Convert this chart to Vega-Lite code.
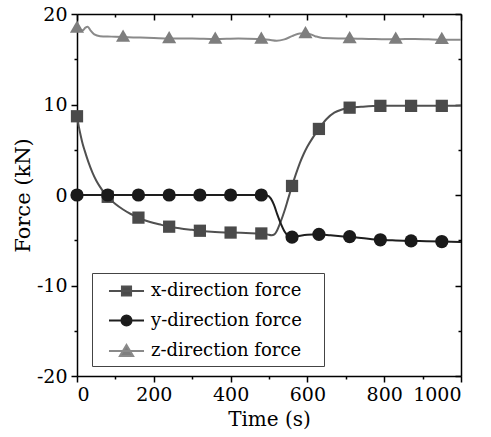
{
  "$schema": "https://vega.github.io/schema/vega-lite/v6.json",
  "width": 384,
  "height": 362,
  "autosize": "none",
  "padding": {"left": 77, "top": 14, "right": 30, "bottom": 61},
  "background": "white",
  "config": {
    "font": "DejaVu Serif",
    "view": {"stroke": null},
    "axis": {"grid": false, "domainColor": "black", "domainWidth": 1.5, "tickColor": "black", "tickWidth": 1.5, "labelColor": "black", "labelFont": "DejaVu Serif", "labelFontSize": 19, "titleFont": "DejaVu Serif", "titleFontSize": 20, "titleFontWeight": "normal", "titleColor": "black"},
    "legend": {"labelFont": "DejaVu Serif"}
  },
  "datasets": {
    "lines": [
      {"t": 0, "v": 8.7, "s": "x-direction force"},
      {"t": 5, "v": 7.5, "s": "x-direction force"},
      {"t": 10, "v": 6.5, "s": "x-direction force"},
      {"t": 15, "v": 5.6, "s": "x-direction force"},
      {"t": 20, "v": 4.9, "s": "x-direction force"},
      {"t": 30, "v": 3.6, "s": "x-direction force"},
      {"t": 40, "v": 2.5, "s": "x-direction force"},
      {"t": 50, "v": 1.6, "s": "x-direction force"},
      {"t": 60, "v": 0.9, "s": "x-direction force"},
      {"t": 70, "v": 0.3, "s": "x-direction force"},
      {"t": 80, "v": -0.2, "s": "x-direction force"},
      {"t": 100, "v": -1.0, "s": "x-direction force"},
      {"t": 120, "v": -1.6, "s": "x-direction force"},
      {"t": 140, "v": -2.1, "s": "x-direction force"},
      {"t": 160, "v": -2.5, "s": "x-direction force"},
      {"t": 180, "v": -2.85, "s": "x-direction force"},
      {"t": 200, "v": -3.1, "s": "x-direction force"},
      {"t": 220, "v": -3.3, "s": "x-direction force"},
      {"t": 240, "v": -3.5, "s": "x-direction force"},
      {"t": 270, "v": -3.7, "s": "x-direction force"},
      {"t": 300, "v": -3.85, "s": "x-direction force"},
      {"t": 320, "v": -3.95, "s": "x-direction force"},
      {"t": 350, "v": -4.05, "s": "x-direction force"},
      {"t": 400, "v": -4.15, "s": "x-direction force"},
      {"t": 440, "v": -4.2, "s": "x-direction force"},
      {"t": 480, "v": -4.25, "s": "x-direction force"},
      {"t": 495, "v": -4.35, "s": "x-direction force"},
      {"t": 507, "v": -4.45, "s": "x-direction force"},
      {"t": 514, "v": -4.35, "s": "x-direction force"},
      {"t": 520, "v": -4.0, "s": "x-direction force"},
      {"t": 530, "v": -3.0, "s": "x-direction force"},
      {"t": 540, "v": -1.8, "s": "x-direction force"},
      {"t": 550, "v": -0.4, "s": "x-direction force"},
      {"t": 560, "v": 1.0, "s": "x-direction force"},
      {"t": 570, "v": 2.3, "s": "x-direction force"},
      {"t": 580, "v": 3.5, "s": "x-direction force"},
      {"t": 590, "v": 4.5, "s": "x-direction force"},
      {"t": 600, "v": 5.35, "s": "x-direction force"},
      {"t": 615, "v": 6.4, "s": "x-direction force"},
      {"t": 630, "v": 7.3, "s": "x-direction force"},
      {"t": 650, "v": 8.4, "s": "x-direction force"},
      {"t": 670, "v": 9.1, "s": "x-direction force"},
      {"t": 690, "v": 9.45, "s": "x-direction force"},
      {"t": 710, "v": 9.65, "s": "x-direction force"},
      {"t": 740, "v": 9.75, "s": "x-direction force"},
      {"t": 790, "v": 9.85, "s": "x-direction force"},
      {"t": 870, "v": 9.85, "s": "x-direction force"},
      {"t": 950, "v": 9.85, "s": "x-direction force"},
      {"t": 1000, "v": 9.9, "s": "x-direction force"},
      {"t": 0, "v": 0, "s": "y-direction force"},
      {"t": 100, "v": 0, "s": "y-direction force"},
      {"t": 200, "v": 0, "s": "y-direction force"},
      {"t": 300, "v": 0, "s": "y-direction force"},
      {"t": 400, "v": 0, "s": "y-direction force"},
      {"t": 480, "v": 0, "s": "y-direction force"},
      {"t": 495, "v": -0.05, "s": "y-direction force"},
      {"t": 505, "v": -0.4, "s": "y-direction force"},
      {"t": 513, "v": -1.1, "s": "y-direction force"},
      {"t": 522, "v": -2.2, "s": "y-direction force"},
      {"t": 531, "v": -3.2, "s": "y-direction force"},
      {"t": 540, "v": -4.0, "s": "y-direction force"},
      {"t": 550, "v": -4.5, "s": "y-direction force"},
      {"t": 560, "v": -4.65, "s": "y-direction force"},
      {"t": 575, "v": -4.55, "s": "y-direction force"},
      {"t": 600, "v": -4.4, "s": "y-direction force"},
      {"t": 630, "v": -4.35, "s": "y-direction force"},
      {"t": 660, "v": -4.45, "s": "y-direction force"},
      {"t": 700, "v": -4.6, "s": "y-direction force"},
      {"t": 740, "v": -4.75, "s": "y-direction force"},
      {"t": 790, "v": -4.95, "s": "y-direction force"},
      {"t": 830, "v": -5.02, "s": "y-direction force"},
      {"t": 870, "v": -5.07, "s": "y-direction force"},
      {"t": 910, "v": -5.1, "s": "y-direction force"},
      {"t": 950, "v": -5.14, "s": "y-direction force"},
      {"t": 1000, "v": -5.2, "s": "y-direction force"},
      {"t": 0, "v": 18.5, "s": "z-direction force"},
      {"t": 8, "v": 18.3, "s": "z-direction force"},
      {"t": 15, "v": 18.2, "s": "z-direction force"},
      {"t": 22, "v": 18.5, "s": "z-direction force"},
      {"t": 28, "v": 18.6, "s": "z-direction force"},
      {"t": 35, "v": 18.2, "s": "z-direction force"},
      {"t": 45, "v": 17.75, "s": "z-direction force"},
      {"t": 60, "v": 17.55, "s": "z-direction force"},
      {"t": 90, "v": 17.5, "s": "z-direction force"},
      {"t": 120, "v": 17.45, "s": "z-direction force"},
      {"t": 160, "v": 17.4, "s": "z-direction force"},
      {"t": 200, "v": 17.35, "s": "z-direction force"},
      {"t": 240, "v": 17.3, "s": "z-direction force"},
      {"t": 300, "v": 17.3, "s": "z-direction force"},
      {"t": 360, "v": 17.25, "s": "z-direction force"},
      {"t": 420, "v": 17.3, "s": "z-direction force"},
      {"t": 470, "v": 17.25, "s": "z-direction force"},
      {"t": 500, "v": 17.15, "s": "z-direction force"},
      {"t": 520, "v": 17.05, "s": "z-direction force"},
      {"t": 540, "v": 17.2, "s": "z-direction force"},
      {"t": 560, "v": 17.55, "s": "z-direction force"},
      {"t": 580, "v": 17.85, "s": "z-direction force"},
      {"t": 600, "v": 17.85, "s": "z-direction force"},
      {"t": 620, "v": 17.55, "s": "z-direction force"},
      {"t": 640, "v": 17.35, "s": "z-direction force"},
      {"t": 680, "v": 17.3, "s": "z-direction force"},
      {"t": 710, "v": 17.3, "s": "z-direction force"},
      {"t": 760, "v": 17.25, "s": "z-direction force"},
      {"t": 830, "v": 17.2, "s": "z-direction force"},
      {"t": 880, "v": 17.25, "s": "z-direction force"},
      {"t": 950, "v": 17.15, "s": "z-direction force"},
      {"t": 1000, "v": 17.15, "s": "z-direction force"}
    ],
    "markers": [
      {"t": 0, "v": 8.7, "s": "x-direction force"},
      {"t": 80, "v": -0.2, "s": "x-direction force"},
      {"t": 160, "v": -2.5, "s": "x-direction force"},
      {"t": 240, "v": -3.5, "s": "x-direction force"},
      {"t": 320, "v": -3.95, "s": "x-direction force"},
      {"t": 400, "v": -4.15, "s": "x-direction force"},
      {"t": 480, "v": -4.25, "s": "x-direction force"},
      {"t": 560, "v": 1.0, "s": "x-direction force"},
      {"t": 630, "v": 7.3, "s": "x-direction force"},
      {"t": 710, "v": 9.65, "s": "x-direction force"},
      {"t": 790, "v": 9.85, "s": "x-direction force"},
      {"t": 870, "v": 9.85, "s": "x-direction force"},
      {"t": 950, "v": 9.85, "s": "x-direction force"},
      {"t": 0, "v": 0, "s": "y-direction force"},
      {"t": 80, "v": 0, "s": "y-direction force"},
      {"t": 160, "v": 0, "s": "y-direction force"},
      {"t": 240, "v": 0, "s": "y-direction force"},
      {"t": 320, "v": 0, "s": "y-direction force"},
      {"t": 400, "v": 0, "s": "y-direction force"},
      {"t": 480, "v": 0, "s": "y-direction force"},
      {"t": 560, "v": -4.65, "s": "y-direction force"},
      {"t": 630, "v": -4.35, "s": "y-direction force"},
      {"t": 710, "v": -4.6, "s": "y-direction force"},
      {"t": 790, "v": -4.95, "s": "y-direction force"},
      {"t": 870, "v": -5.07, "s": "y-direction force"},
      {"t": 950, "v": -5.14, "s": "y-direction force"},
      {"t": 0, "v": 18.6, "s": "z-direction force"},
      {"t": 120, "v": 17.6, "s": "z-direction force"},
      {"t": 240, "v": 17.45, "s": "z-direction force"},
      {"t": 360, "v": 17.4, "s": "z-direction force"},
      {"t": 480, "v": 17.4, "s": "z-direction force"},
      {"t": 595, "v": 18.0, "s": "z-direction force"},
      {"t": 710, "v": 17.45, "s": "z-direction force"},
      {"t": 830, "v": 17.4, "s": "z-direction force"},
      {"t": 950, "v": 17.35, "s": "z-direction force"}
    ]
  },
  "layer": [
    {
      "data": {"name": "lines"},
      "mark": {"type": "line", "strokeWidth": 2, "interpolate": "monotone"},
      "encoding": {
        "x": {"field": "t", "type": "quantitative", "scale": {"domain": [0, 1000], "nice": false},
          "axis": {"orient": "bottom", "values": [0, 100, 200, 300, 400, 500, 600, 700, 800, 900, 1000],
            "labelExpr": "datum.value % 200 === 0 ? '' + datum.value : ''",
            "tickSize": {"condition": {"test": "datum.value % 200 === 0", "value": 6}, "value": 3},
            "labelPadding": 3, "title": "Time (s)", "titlePadding": 5, "labelOverlap": false}},
        "y": {"field": "v", "type": "quantitative", "scale": {"domain": [-20, 20], "nice": false},
          "axis": {"orient": "left", "values": [-20, -15, -10, -5, 0, 5, 10, 15, 20],
            "labelExpr": "datum.value % 10 === 0 ? '' + datum.value : ''",
            "tickSize": {"condition": {"test": "datum.value % 10 === 0", "value": 6}, "value": 3},
            "labelPadding": 4, "title": "Force (kN)", "titleFontSize": 21, "titlePadding": 3, "labelOverlap": false}},
        "color": {"field": "s", "type": "nominal", "legend": null,
          "scale": {"domain": ["x-direction force", "y-direction force", "z-direction force"], "range": ["#505050", "#1e1e1e", "#8a8a8a"]}}
      }
    },
    {
      "data": {"name": "markers"},
      "mark": {"type": "point", "filled": true, "opacity": 1},
      "encoding": {
        "x": {"field": "t", "type": "quantitative",
          "axis": {"orient": "top", "values": [0, 100, 200, 300, 400, 500, 600, 700, 800, 900, 1000], "labels": false, "title": null,
            "tickSize": {"condition": {"test": "datum.value % 200 === 0", "value": -6}, "value": -3}}},
        "y": {"field": "v", "type": "quantitative",
          "axis": {"orient": "right", "values": [-20, -15, -10, -5, 0, 5, 10, 15, 20], "labels": false, "title": null,
            "tickSize": {"condition": {"test": "datum.value % 10 === 0", "value": -6}, "value": -3}}},
        "color": {"field": "s", "type": "nominal", "legend": null,
          "scale": {"domain": ["x-direction force", "y-direction force", "z-direction force"], "range": ["#4a4a4a", "#1a1a1a", "#7e7e7e"]}},
        "shape": {"field": "s", "type": "nominal", "legend": null,
          "scale": {"domain": ["x-direction force", "y-direction force", "z-direction force"], "range": ["square", "circle", "triangle-up"]}},
        "size": {"field": "s", "type": "nominal", "legend": null,
          "scale": {"domain": ["x-direction force", "y-direction force", "z-direction force"], "range": [150, 200, 256]}}
      }
    },
    {
      "data": {"name": "markers"},
      "transform": [{"filter": "datum.t < 0"}],
      "mark": {"type": "point", "filled": false, "opacity": 1, "size": 576, "strokeWidth": 2},
      "encoding": {
        "x": {"field": "t", "type": "quantitative", "axis": null},
        "y": {"field": "v", "type": "quantitative", "axis": null},
        "fill": {"field": "s", "type": "nominal",
          "scale": {"domain": ["x-direction force", "y-direction force", "z-direction force"], "range": ["#4a4a4a", "#1a1a1a", "#7e7e7e"]},
          "legend": {"orient": "none", "legendX": 15, "legendY": 259, "title": null, "symbolFillColor": "white", "symbolStrokeWidth": 2, "symbolSize": 576, "symbolOffset": 16.5, "labelOffset": 11.5, "labelFont": "DejaVu Serif", "labelFontSize": 18, "labelColor": "black", "rowPadding": 7.5, "padding": 5, "strokeColor": "#444", "fillColor": "white", "labelLimit": 400}},
        "stroke": {"field": "s", "type": "nominal",
          "scale": {"domain": ["x-direction force", "y-direction force", "z-direction force"], "range": ["#505050", "#1e1e1e", "#8a8a8a"]},
          "legend": {"orient": "none", "legendX": 15, "legendY": 259, "title": null, "symbolFillColor": "white", "symbolStrokeWidth": 2, "symbolSize": 576, "symbolOffset": 16.5, "labelOffset": 11.5, "labelFont": "DejaVu Serif", "labelFontSize": 18, "labelColor": "black", "rowPadding": 7.5, "padding": 5, "strokeColor": "#444", "fillColor": "white", "labelLimit": 400}},
        "shape": {"field": "s", "type": "nominal",
          "scale": {"domain": ["x-direction force", "y-direction force", "z-direction force"],
            "range": ["M-2.4,0M-1.46,0H1.46M-0.38,-0.38H0.38V0.38H-0.38ZM15.7,0", "M-2.4,0M-1.46,0H1.46M0.42,0A0.42,0.42 0 1 1 -0.42,0A0.42,0.42 0 1 1 0.42,0ZM15.7,0", "M-2.4,0M-1.46,0H1.46M0,-0.5L0.55,0.42H-0.55ZM15.7,0"]},
          "legend": {"orient": "none", "legendX": 15, "legendY": 259, "title": null, "symbolFillColor": "white", "symbolStrokeWidth": 2, "symbolSize": 576, "symbolOffset": 16.5, "labelOffset": 11.5, "labelFont": "DejaVu Serif", "labelFontSize": 18, "labelColor": "black", "rowPadding": 7.5, "padding": 5, "strokeColor": "#444", "fillColor": "white", "labelLimit": 400}}
      }
    }
  ],
  "resolve": {
    "axis": {"x": "independent", "y": "independent"},
    "scale": {"color": "independent", "shape": "independent", "size": "independent", "fill": "independent", "stroke": "independent"}
  }
}
